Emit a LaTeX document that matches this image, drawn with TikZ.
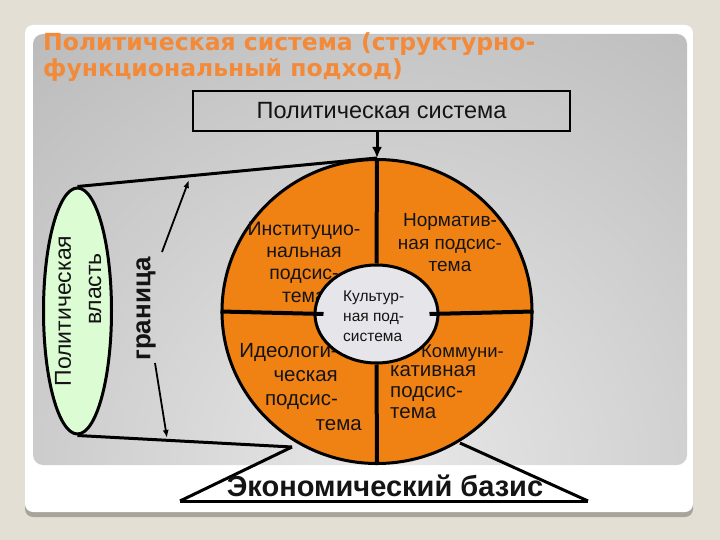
\documentclass[tikz,border=0pt]{standalone}
\usepackage{fontspec}
\setmainfont{Liberation Sans}
\newfontfamily\titlefont{DejaVu Sans}
\usetikzlibrary{arrows.meta,shapes.geometric}
\definecolor{bgc}{RGB}{228,223,213}
\definecolor{shadowc}{RGB}{168,164,156}
\definecolor{orangec}{RGB}{240,130,20}
\definecolor{titlec}{RGB}{242,138,58}
\definecolor{greenc}{RGB}{220,252,212}
\definecolor{innerc}{RGB}{230,230,234}
\definecolor{inkc}{RGB}{20,20,20}
\tikzset{
  thickline/.style={draw=black, line width=3},
  crossline/.style={draw=black, line width=4},
  qtext/.style={text=inkc, inner sep=0},
  bdarrow/.style={draw=black, line width=1.8, -{Latex[length=8,width=6]}},
}
\begin{document}
\begin{tikzpicture}[x=1pt,y=-1pt]
\useasboundingbox (0,0) rectangle (720,540);
% background and slide card
\fill[bgc] (0,0) rectangle (720,540);
\fill[shadowc, rounded corners=8] (25,28) rectangle (693,517);
\fill[white, rounded corners=8] (25,25) rectangle (693,512);
\begin{scope}
\clip[rounded corners=10] (33,34) rectangle (687,465);
\shade[inner color=gray!18, outer color=gray!74] (390,470) circle (900);
\end{scope}
% title
\node[anchor=west, font=\titlefont\bfseries\fontsize{23.5}{26}\selectfont, text=titlec, align=left, inner sep=0] (title) at (43,57) {Политическая система (структурно-\\функциональный подход)};
% top box
\node[draw=black, line width=2.6, minimum width=377, minimum height=40, inner sep=0, font=\fontsize{23.5}{26}\selectfont, text=inkc] (ps) at (381.5,111) {Политическая система};
% key coordinates
\coordinate (bl) at (292,447);
\coordinate (tl) at (180,501);
\coordinate (tr) at (588,501);
\coordinate (trtop) at (460,443);
% cylinder ellipse
\node[ellipse, draw=black, line width=3, fill=greenc, minimum width=68, minimum height=246, inner sep=0] (pv) at (77.5,311) {};
\node[qtext, rotate=90, font=\fontsize{23}{26}\selectfont] (pv1) at (63,311) {Политическая};
\node[qtext, rotate=90, font=\fontsize{23}{26}\selectfont] (pv2) at (95,289) {власть};
% big circle
\node[ellipse, draw=black, line width=3, fill=orangec, minimum width=310, minimum height=304, inner sep=0] (big) at (377,311.5) {};
% cylinder lines
\draw[thickline] (pv.north) -- (big.north);
\draw[thickline] (pv.south) -- (bl);
% arrow from box
\draw[line width=3, -{Latex[length=11,width=10]}] (big.north |- ps.south) -- (big.north);
% quadrant texts
\node[qtext, align=center, font=\fontsize{19.5}{22.3}\selectfont] (inst) at (304,262) {Институцио-\\нальная\\подсис-\\тема};
\node[qtext, align=center, font=\fontsize{19}{22.5}\selectfont] (norm) at (450,243) {Норматив-\\ная подсис-\\тема};
\node[qtext, align=right, font=\fontsize{20.5}{24.3}\selectfont, anchor=north east] (ideo) at (338,343) {Идеологи-\\ческая\\подсис-};
\node[qtext, anchor=east, font=\fontsize{20.5}{24.3}\selectfont] (ideo2) at (362,425) {тема};
\node[qtext, anchor=west, font=\fontsize{18.5}{21}\selectfont] (komm1) at (421,353) {Коммуни-};
\node[qtext, align=left, anchor=north west, font=\fontsize{20.5}{21}\selectfont] (komm2) at (390,365) {кативная\\подсис-\\тема};
% inner ellipse
\node[ellipse, draw=black, line width=3, fill=innerc, minimum width=123, minimum height=98, inner sep=0] (cult) at (376.5,314) {};
% cross lines
\draw[crossline] (big.north) -- (cult.north);
\draw[crossline] (cult.south) -- (big.south);
\draw[crossline] (big.west) -- ([xshift=10]cult.west);
\draw[crossline] ([xshift=-10]cult.east) -- (big.east);
\node[qtext, align=left, anchor=west, font=\fontsize{15.5}{20}\selectfont] (cultt) at (343,316) {Культур-\\ная под-\\система};
% boundary label and arrows
\node[qtext, rotate=90, font=\bfseries\fontsize{26}{28}\selectfont] (gr) at (146,309) {граница};
\coordinate (ga1) at (162,252);
\coordinate (gt1) at (189,180);
\coordinate (ga2) at (155,363);
\coordinate (gt2) at (167,438);
\draw[bdarrow] (ga1) -- (gt1);
\draw[bdarrow] (ga2) -- (gt2);
% economic base triangle
\draw[thickline] (tl) -- (bl);
\draw[thickline] (trtop) -- (tr);
\draw[thickline] (tl) -- (tr);
\node[qtext, font=\bfseries\fontsize{29}{32}\selectfont] (eco) at (385,486) {Экономический базис};
\end{tikzpicture}
\end{document}
